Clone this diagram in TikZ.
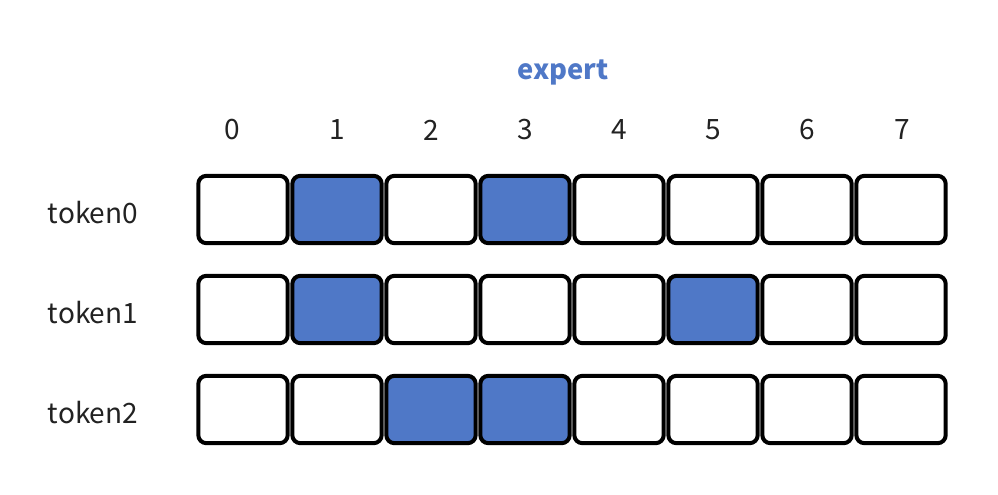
\documentclass[tikz,border=0pt]{standalone}
\usepackage{fontspec}
\setmainfont{Noto Sans CJK SC}
\definecolor{selblue}{HTML}{4F78C7}
\definecolor{txt}{HTML}{222222}
\tikzset{
  cell/.style={draw=black, line width=3pt, rounded corners=6pt, minimum width=67pt, minimum height=50.5pt, inner sep=0pt, fill=white},
  sel/.style={cell, fill=selblue},
  lab/.style={text=txt, font=\fontsize{21}{24}\selectfont, inner sep=0pt},
}
\begin{document}
\begin{tikzpicture}[x=0.75pt,y=-0.75pt]
\useasboundingbox (0,0) rectangle (998,494);
\node[lab, font=\fontsize{20.5}{24}\selectfont\bfseries, text=selblue] (expert) at (563,72) {expert};
\foreach \i/\lx in {0/232,1/337,2/431,3/525,4/619,5/713,6/807,7/902} {
  \node[lab] (n\i) at (\lx,130) {\i};
}
\foreach \r/\cy in {0/209.5,1/309.5,2/409.5} {
  \node[lab] (t\r) at (93,\cy+3) {token\r};
}
% row 0: selected 1,3 ; row 1: 1,5 ; row 2: 2,3
\foreach \r/\cy/\sa/\sb in {0/209.5/1/3,1/309.5/1/5,2/409.5/2/3} {
  \foreach \c in {0,...,7} {
    \pgfmathtruncatemacro{\isSel}{(\c==\sa)||(\c==\sb)}
    \ifnum\isSel=1
      \node[sel] (b\r\c) at (243+94*\c,\cy) {};
    \else
      \node[cell] (b\r\c) at (243+94*\c,\cy) {};
    \fi
  }
}
\end{tikzpicture}
\end{document}
